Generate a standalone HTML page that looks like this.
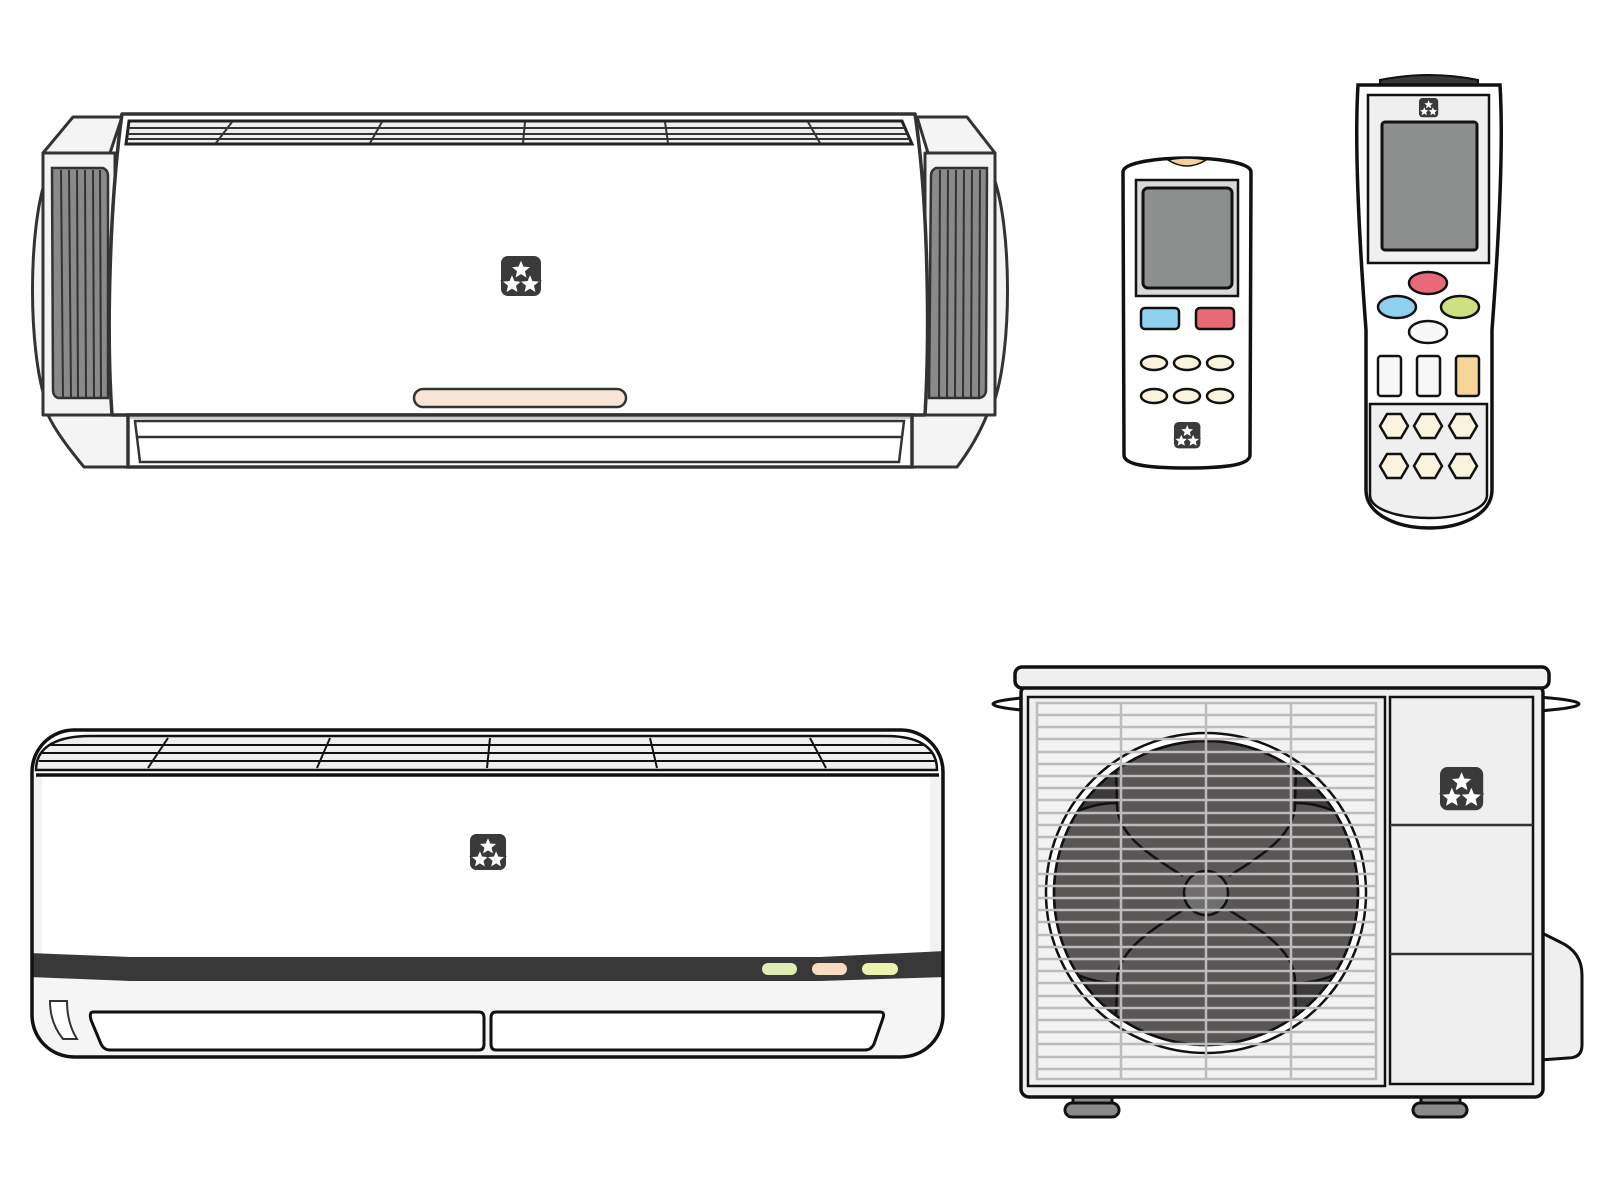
<!DOCTYPE html>
<html><head><meta charset="utf-8"><style>html,body{margin:0;padding:0;background:#fff}svg{display:block}</style></head>
<body>
<svg width="1600" height="1200" viewBox="0 0 1600 1200" xmlns="http://www.w3.org/2000/svg">
<defs>
<g id="logo">
<rect x="0" y="0" width="40" height="40" rx="7" fill="#3b3a3a"/>
<g fill="#fff" stroke="#3b3a3a" stroke-width="0.12">
<path transform="translate(20,14) scale(11)" d="M0,-1 L0.265,-0.364 0.951,-0.309 0.428,0.139 0.588,0.809 0,0.45 -0.588,0.809 -0.428,0.139 -0.951,-0.309 -0.265,-0.364Z"/>
<path transform="translate(11,28.5) scale(11)" d="M0,-1 L0.265,-0.364 0.951,-0.309 0.428,0.139 0.588,0.809 0,0.45 -0.588,0.809 -0.428,0.139 -0.951,-0.309 -0.265,-0.364Z"/>
<path transform="translate(29,28.5) scale(11)" d="M0,-1 L0.265,-0.364 0.951,-0.309 0.428,0.139 0.588,0.809 0,0.45 -0.588,0.809 -0.428,0.139 -0.951,-0.309 -0.265,-0.364Z"/>
</g>
</g>
<clipPath id="bclip"><rect x="32" y="730" width="911" height="327" rx="42"/></clipPath>
<clipPath id="fclip"><circle cx="1206" cy="893" r="152"/></clipPath>
</defs>

<!-- ============ TOP INDOOR UNIT ============ -->
<g stroke="#333" stroke-width="3" stroke-linejoin="round" fill="#f4f4f4">
<path d="M46,178 C28,230 28,350 46,402 Z"/>
<path d="M43,153 L73,117 L122,117 L110,153 Z"/>
<rect x="43" y="153" width="72" height="262"/>
<path d="M48,415 L128,415 L128,467 L84,467 C70,450 56,432 48,415 Z"/>
<path d="M994,178 C1012,230 1012,350 994,402 Z"/>
<path d="M995,153 L967,117 L917,117 L928,153 Z"/>
<rect x="925" y="153" width="70" height="262"/>
<path d="M987,415 L912,415 L912,467 L957,467 C970,450 980,432 987,415 Z"/>
</g>
<g stroke="#333" stroke-width="2.5">
<path d="M52,168 L103,168 Q108,170 108,176 L108,398 L58,398 Q53,396 53,390 Z" fill="#8a8a8a"/>
<path d="M987,168 L936,168 Q931,170 931,176 L929,398 L980,398 Q986,396 986,390 Z" fill="#8a8a8a"/>
<g stroke-width="2">
<line x1="61" y1="170" x2="63" y2="397"/><line x1="69" y1="170" x2="71" y2="397"/><line x1="77" y1="170" x2="78" y2="397"/><line x1="85" y1="170" x2="86" y2="397"/><line x1="93" y1="170" x2="94" y2="397"/><line x1="100" y1="170" x2="101" y2="397"/>
<line x1="940" y1="170" x2="939" y2="397"/><line x1="948" y1="170" x2="947" y2="397"/><line x1="956" y1="170" x2="955" y2="397"/><line x1="964" y1="170" x2="963" y2="397"/><line x1="972" y1="170" x2="971" y2="397"/><line x1="980" y1="170" x2="979" y2="397"/>
</g>
</g>
<path d="M122,114 L915,114 C928,200 930,330 925,415 L112,415 C106,330 110,200 122,114 Z" fill="#fff" stroke="#333" stroke-width="3.5" stroke-linejoin="round"/>
<path d="M129,121 L902,121 L912,144 L126,144 Z" fill="#eee" stroke="#222" stroke-width="3"/>
<g stroke="#333" stroke-width="2">
<line x1="128" y1="128" x2="905" y2="128"/><line x1="127" y1="134" x2="908" y2="134"/><line x1="127" y1="139" x2="910" y2="139"/>
<line x1="232" y1="122" x2="216" y2="143"/><line x1="382" y1="122" x2="370" y2="143"/><line x1="525" y1="122" x2="523" y2="143"/><line x1="665" y1="122" x2="668" y2="143"/><line x1="808" y1="122" x2="820" y2="143"/>
</g>
<use href="#logo" x="501" y="256"/>
<rect x="414" y="389" width="212" height="18" rx="9" fill="#f8e6d2" stroke="#333" stroke-width="2.5"/>
<rect x="128" y="415" width="784" height="52" fill="#fff" stroke="#333" stroke-width="3.5"/>
<path d="M135,421 L904,421 L899,462 L140,462 Z" fill="#fff" stroke="#333" stroke-width="2.5"/>
<line x1="136" y1="437" x2="902" y2="437" stroke="#333" stroke-width="2.5"/>
<line x1="130" y1="418" x2="910" y2="418" stroke="#ccc" stroke-width="2"/>

<!-- ============ SMALL REMOTE ============ -->
<path d="M1123,172 C1123,162 1160,158 1187,158 C1214,158 1251,162 1251,172 L1250,455 C1250,466 1220,468 1187,468 C1154,468 1124,466 1124,455 Z" fill="#fff" stroke="#111" stroke-width="3.5"/>
<path d="M1168,160 Q1187,172 1206,160 Q1187,156 1168,160Z" fill="#f3cf9e" stroke="#111" stroke-width="1.5"/>
<rect x="1136" y="180" width="102" height="116" fill="#d9d9d9" stroke="#111" stroke-width="2.5"/>
<rect x="1143" y="188" width="89" height="100" rx="5" fill="#8d8f8e" stroke="#111" stroke-width="3"/>
<rect x="1141" y="308" width="38" height="21" rx="4" fill="#8fd0ee" stroke="#111" stroke-width="2.5"/>
<rect x="1196" y="308" width="38" height="21" rx="4" fill="#e86a78" stroke="#111" stroke-width="2.5"/>
<g fill="#faf4df" stroke="#111" stroke-width="2.5">
<ellipse cx="1154" cy="363" rx="13" ry="7"/><ellipse cx="1187" cy="363" rx="13" ry="7"/><ellipse cx="1220" cy="363" rx="13" ry="7"/>
<ellipse cx="1154" cy="396" rx="13" ry="7"/><ellipse cx="1187" cy="396" rx="13" ry="7"/><ellipse cx="1220" cy="396" rx="13" ry="7"/>
</g>
<use href="#logo" transform="translate(1174,422) scale(0.66)"/>

<!-- ============ BIG REMOTE ============ -->
<path d="M1380,80 Q1429,70 1478,80 L1478,86 L1380,86Z" fill="#3b3a3a" stroke="#111" stroke-width="2"/>
<path d="M1358,85 L1500,85 C1504,150 1498,250 1492,330 L1492,490 C1492,515 1460,528 1429,528 C1398,528 1366,515 1366,490 L1366,330 C1360,250 1354,150 1358,85 Z" fill="#fff" stroke="#111" stroke-width="3.5"/>
<rect x="1368" y="95" width="121" height="168" fill="#efefef" stroke="#111" stroke-width="2.5"/>
<rect x="1382" y="122" width="95" height="128" rx="3" fill="#8d8f8e" stroke="#111" stroke-width="3"/>
<use href="#logo" transform="translate(1419,98) scale(0.48)"/>
<ellipse cx="1428" cy="283" rx="19" ry="11" fill="#e86a78" stroke="#111" stroke-width="2.5"/>
<ellipse cx="1397" cy="307" rx="19" ry="11" fill="#8fd0ee" stroke="#111" stroke-width="2.5"/>
<ellipse cx="1460" cy="307" rx="19" ry="11" fill="#cde27e" stroke="#111" stroke-width="2.5"/>
<ellipse cx="1428" cy="332" rx="19" ry="11" fill="#f7f7f7" stroke="#111" stroke-width="2.5"/>
<rect x="1378" y="356" width="23" height="40" rx="3" fill="#f7f7f7" stroke="#111" stroke-width="2.5"/>
<rect x="1417" y="356" width="23" height="40" rx="3" fill="#f7f7f7" stroke="#111" stroke-width="2.5"/>
<rect x="1456" y="356" width="23" height="40" rx="3" fill="#f6d59a" stroke="#111" stroke-width="2.5"/>
<path d="M1370,404 L1487,404 L1487,495 C1487,510 1458,518 1429,518 C1400,518 1370,510 1370,495 Z" fill="#efefef" stroke="#111" stroke-width="2.5"/>
<g fill="#faf4df" stroke="#111" stroke-width="2.5">
<path id="hx" d="M1387,414 L1401,414 L1408,426 L1401,438 L1387,438 L1380,426 Z"/>
<use href="#hx" x="34"/><use href="#hx" x="69"/>
<use href="#hx" y="40"/><use href="#hx" x="34" y="40"/><use href="#hx" x="69" y="40"/>
</g>

<!-- ============ BOTTOM INDOOR UNIT ============ -->
<rect x="32" y="730" width="911" height="327" rx="42" fill="#fff"/>
<g clip-path="url(#bclip)">
<rect x="30" y="978" width="920" height="85" fill="#f5f5f5"/>
<rect x="30" y="775" width="12" height="180" fill="#f2f2f2"/>
<rect x="930" y="775" width="15" height="180" fill="#f2f2f2"/>
<path d="M30,953 L130,957 L820,957 L945,951 L945,977 L820,981 L130,981 L30,977 Z" fill="#383838"/>
</g>
<path d="M36,770 C36,745 60,736 90,736 L885,736 C915,736 937,745 937,770 Z" fill="#eee" stroke="#111" stroke-width="2.5"/>
<g stroke="#111" stroke-width="2">
<line x1="50" y1="745" x2="925" y2="745"/><line x1="42" y1="753" x2="933" y2="753"/><line x1="39" y1="761" x2="935" y2="761"/>
<line x1="168" y1="738" x2="148" y2="768"/><line x1="330" y1="738" x2="317" y2="768"/><line x1="490" y1="738" x2="487" y2="768"/><line x1="650" y1="738" x2="657" y2="768"/><line x1="810" y1="738" x2="826" y2="768"/>
</g>
<line x1="36" y1="775" x2="939" y2="775" stroke="#111" stroke-width="3.5"/>
<rect x="32" y="730" width="911" height="327" rx="42" fill="none" stroke="#111" stroke-width="3.5"/>
<use href="#logo" transform="translate(470,834) scale(0.9)"/>
<rect x="762" y="963" width="35" height="12" rx="6" fill="#e0ecb5"/>
<rect x="812" y="963" width="35" height="12" rx="6" fill="#f8dcc0"/>
<rect x="862" y="963" width="36" height="12" rx="6" fill="#ecf2b0"/>
<path d="M93,1012 L479,1012 Q484,1012 484,1018 L484,1044 Q484,1050 479,1050 L110,1050 Q104,1050 101,1044 L91,1020 Q89,1012 93,1012Z" fill="#fff" stroke="#111" stroke-width="3"/>
<path d="M496,1012 L880,1012 Q885,1012 883,1018 L874,1044 Q871,1050 865,1050 L496,1050 Q491,1050 491,1044 L491,1018 Q491,1012 496,1012Z" fill="#fff" stroke="#111" stroke-width="3"/>
<path d="M50,1001 L67,1001 C67,1015 70,1028 77,1039 L63,1039 C54,1028 50,1015 50,1001 Z" fill="#fff" stroke="#333" stroke-width="2"/>

<!-- ============ OUTDOOR UNIT ============ -->
<ellipse cx="1286" cy="704" rx="293" ry="14" fill="#fff" stroke="#111" stroke-width="3"/>
<path d="M1540,932 L1560,942 Q1582,952 1582,975 L1582,1045 Q1582,1058 1568,1058 L1540,1060 Z" fill="#efefef" stroke="#111" stroke-width="3"/>
<g fill="#8a8a8a" stroke="#111" stroke-width="3">
<rect x="1073" y="1095" width="39" height="11" rx="3"/><rect x="1065" y="1103" width="54" height="14" rx="7"/>
<rect x="1421" y="1095" width="39" height="11" rx="3"/><rect x="1413" y="1103" width="54" height="14" rx="7"/>
</g>
<rect x="1021" y="685" width="522" height="412" rx="8" fill="#efefef" stroke="#111" stroke-width="3.5"/>
<rect x="1015" y="667" width="534" height="21" rx="7" fill="#efefef" stroke="#111" stroke-width="3.5"/>
<rect x="1028" y="697" width="357" height="389" fill="#efefef" stroke="#111" stroke-width="2.5"/>
<rect x="1037" y="703" width="339" height="376" fill="#f2f2f2" stroke="#bcbcbc" stroke-width="2.5"/>
<circle cx="1206" cy="893" r="160" fill="#fff" stroke="#111" stroke-width="2.5"/>
<circle cx="1206" cy="893" r="152" fill="#5a5656" stroke="#111" stroke-width="2.5"/>
<g clip-path="url(#fclip)" fill="#3c3a3a" stroke="#111" stroke-width="2.5">
<g id="q">
<path d="M1117,803 L1116,766 L1060,766 L1060,812 L1078,811 C1090,806 1103,803 1117,803 Z"/>
<path d="M1183,876 C1150,855 1116,835 1117,803" fill="none"/>
</g>
<use href="#q" transform="translate(2412,0) scale(-1,1)"/>
<use href="#q" transform="translate(0,1786) scale(1,-1)"/>
<use href="#q" transform="translate(2412,1786) scale(-1,-1)"/>
</g>
<circle cx="1206" cy="893" r="152" fill="none" stroke="#111" stroke-width="2.5"/>
<circle cx="1206" cy="893" r="22" fill="#6f6d6d" stroke="#111" stroke-width="2.5"/>
<g stroke="#bcbcbc" stroke-width="2.5">
<line x1="1037" y1="715" x2="1376" y2="715"/><line x1="1037" y1="727" x2="1376" y2="727"/><line x1="1037" y1="739" x2="1376" y2="739"/><line x1="1037" y1="752" x2="1376" y2="752"/><line x1="1037" y1="764" x2="1376" y2="764"/><line x1="1037" y1="776" x2="1376" y2="776"/><line x1="1037" y1="788" x2="1376" y2="788"/><line x1="1037" y1="800" x2="1376" y2="800"/><line x1="1037" y1="813" x2="1376" y2="813"/><line x1="1037" y1="825" x2="1376" y2="825"/><line x1="1037" y1="837" x2="1376" y2="837"/><line x1="1037" y1="849" x2="1376" y2="849"/><line x1="1037" y1="861" x2="1376" y2="861"/><line x1="1037" y1="874" x2="1376" y2="874"/><line x1="1037" y1="886" x2="1376" y2="886"/><line x1="1037" y1="898" x2="1376" y2="898"/><line x1="1037" y1="910" x2="1376" y2="910"/><line x1="1037" y1="922" x2="1376" y2="922"/><line x1="1037" y1="935" x2="1376" y2="935"/><line x1="1037" y1="947" x2="1376" y2="947"/><line x1="1037" y1="959" x2="1376" y2="959"/><line x1="1037" y1="971" x2="1376" y2="971"/><line x1="1037" y1="983" x2="1376" y2="983"/><line x1="1037" y1="996" x2="1376" y2="996"/><line x1="1037" y1="1008" x2="1376" y2="1008"/><line x1="1037" y1="1020" x2="1376" y2="1020"/><line x1="1037" y1="1032" x2="1376" y2="1032"/><line x1="1037" y1="1044" x2="1376" y2="1044"/><line x1="1037" y1="1057" x2="1376" y2="1057"/><line x1="1037" y1="1069" x2="1376" y2="1069"/>
<line x1="1121" y1="703" x2="1121" y2="1079"/><line x1="1206" y1="703" x2="1206" y2="1079"/><line x1="1291" y1="703" x2="1291" y2="1079"/>
</g>
<rect x="1390" y="697" width="143" height="387" fill="#efefef" stroke="#111" stroke-width="2.5"/>
<line x1="1390" y1="825" x2="1533" y2="825" stroke="#333" stroke-width="2.5"/>
<line x1="1390" y1="954" x2="1533" y2="954" stroke="#333" stroke-width="2.5"/>
<use href="#logo" transform="translate(1440,767) scale(1.08)"/>
</svg>
</body></html>
